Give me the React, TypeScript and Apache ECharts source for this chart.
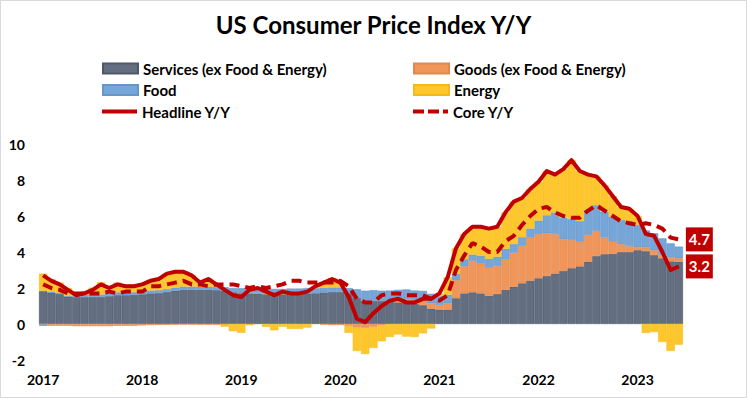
import React, { useEffect, useRef } from 'react';
import * as echarts from 'echarts';

const months = [
  '2017-02', '2017-03', '2017-04', '2017-05', '2017-06', '2017-07', '2017-08', '2017-09', '2017-10', '2017-11', '2017-12',
  '2018-01', '2018-02', '2018-03', '2018-04', '2018-05', '2018-06', '2018-07', '2018-08', '2018-09', '2018-10', '2018-11', '2018-12',
  '2019-01', '2019-02', '2019-03', '2019-04', '2019-05', '2019-06', '2019-07', '2019-08', '2019-09', '2019-10', '2019-11', '2019-12',
  '2020-01', '2020-02', '2020-03', '2020-04', '2020-05', '2020-06', '2020-07', '2020-08', '2020-09', '2020-10', '2020-11', '2020-12',
  '2021-01', '2021-02', '2021-03', '2021-04', '2021-05', '2021-06', '2021-07', '2021-08', '2021-09', '2021-10', '2021-11', '2021-12',
  '2022-01', '2022-02', '2022-03', '2022-04', '2022-05', '2022-06', '2022-07', '2022-08', '2022-09', '2022-10', '2022-11', '2022-12',
  '2023-01', '2023-02', '2023-03', '2023-04', '2023-05', '2023-06', '2023-07',
];

const services = [
  1.83, 1.74, 1.67, 1.52, 1.5, 1.5, 1.5, 1.5, 1.55, 1.6, 1.6,
  1.62, 1.65, 1.7, 1.72, 1.78, 1.85, 1.9, 1.9, 1.9, 1.9, 1.88, 1.85,
  1.78, 1.72, 1.7, 1.68, 1.65, 1.65, 1.65, 1.68, 1.68, 1.7, 1.72, 1.75,
  1.78, 1.78, 1.72, 1.45, 1.3, 1.28, 1.28, 1.25, 1.2, 1.18, 1.12, 1.05,
  0.85, 0.8, 0.8, 1.43, 1.7, 1.76, 1.7, 1.57, 1.67, 1.9, 2.07, 2.26,
  2.4, 2.54, 2.67, 2.8, 2.95, 3.1, 3.2, 3.46, 3.78, 3.88, 3.9, 4.0,
  4.0, 4.1, 4.05, 3.83, 3.65, 3.48, 3.46,
];

const goods = [
  -0.02, -0.1, -0.1, -0.1, -0.12, -0.12, -0.12, -0.12, -0.12, -0.1, -0.1,
  -0.1, -0.08, -0.06, -0.05, -0.04, -0.03, -0.02, -0.02, -0.03, -0.03, -0.03, -0.02,
  0.0, 0.02, 0.02, 0.04, 0.04, 0.05, 0.06, 0.04, 0.02, 0.02, 0.0, -0.03,
  -0.06, -0.06, -0.1, -0.2, -0.22, -0.15, -0.08, 0.05, 0.15, 0.2, 0.22, 0.25,
  0.3, 0.25, 0.35, 1.0, 1.5, 1.75, 1.65, 1.55, 1.55, 1.68, 1.88, 2.08,
  2.4, 2.45, 2.37, 2.2, 1.75, 1.57, 1.37, 1.48, 1.39, 0.92, 0.67, 0.43,
  0.33, 0.16, 0.2, 0.27, 0.18, 0.22, 0.19,
];

const food = [
  -0.08, 0.05, 0.06, 0.04, 0.1, 0.12, 0.13, 0.14, 0.15, 0.16, 0.18,
  0.15, 0.15, 0.16, 0.16, 0.16, 0.17, 0.18, 0.18, 0.17, 0.17, 0.18, 0.2,
  0.22, 0.25, 0.25, 0.27, 0.27, 0.25, 0.24, 0.25, 0.27, 0.28, 0.27, 0.26,
  0.25, 0.25, 0.27, 0.48, 0.55, 0.6, 0.57, 0.56, 0.55, 0.54, 0.52, 0.54,
  0.53, 0.5, 0.48, 0.36, 0.4, 0.35, 0.45, 0.5, 0.52, 0.6, 0.5, 0.48,
  0.5, 0.75, 1.0, 1.2, 1.2, 1.15, 1.15, 1.4, 1.43, 1.44, 1.39, 1.35,
  1.37, 1.24, 0.95, 0.94, 0.93, 0.78, 0.65,
];

const energy = [
  0.97, 0.71, 0.57, 0.44, 0.12, 0.2, 0.39, 0.68, 0.42, 0.54, 0.42,
  0.43, 0.48, 0.6, 0.67, 0.9, 0.91, 0.84, 0.64, 0.26, 0.46, 0.17, -0.13,
  -0.4, -0.49, -0.07, 0.01, -0.16, -0.35, -0.15, -0.27, -0.27, -0.2, 0.11, 0.32,
  0.53, 0.33, -0.39, -1.3, -1.45, -1.18, -0.88, -0.72, -0.58, -0.7, -0.72, -0.52,
  -0.25, 0.15, 0.97, 1.41, 1.4, 1.54, 1.6, 1.68, 1.66, 2.02, 2.35, 2.18,
  2.2, 2.16, 2.46, 2.1, 2.7, 3.28, 2.78, 1.96, 1.6, 1.46, 1.14, 0.72,
  0.7, 0.5, -0.5, -0.45, -1.0, -1.5, -1.15,
];

const headline = [
  2.7, 2.4, 2.2, 1.9, 1.6, 1.7, 1.9, 2.2, 2.0, 2.2, 2.1,
  2.1, 2.2, 2.4, 2.5, 2.8, 2.9, 2.9, 2.7, 2.3, 2.5, 2.2, 1.9,
  1.6, 1.5, 1.9, 2.0, 1.8, 1.6, 1.8, 1.7, 1.7, 1.8, 2.1, 2.3,
  2.5, 2.3, 1.5, 0.3, 0.1, 0.6, 1.0, 1.3, 1.4, 1.2, 1.2, 1.4,
  1.4, 1.7, 2.6, 4.2, 5.0, 5.4, 5.4, 5.3, 5.4, 6.2, 6.8, 7.0,
  7.5, 7.9, 8.5, 8.3, 8.6, 9.1, 8.5, 8.3, 8.2, 7.7, 7.1, 6.5,
  6.4, 6.0, 5.0, 4.9, 4.0, 3.0, 3.2,
];

const core = [
  2.2, 2.0, 1.9, 1.7, 1.7, 1.7, 1.7, 1.7, 1.8, 1.7, 1.8,
  1.8, 1.8, 2.1, 2.1, 2.2, 2.3, 2.4, 2.2, 2.2, 2.1, 2.2, 2.2,
  2.2, 2.1, 2.0, 2.1, 2.0, 2.1, 2.2, 2.4, 2.4, 2.3, 2.3, 2.3,
  2.3, 2.4, 2.1, 1.4, 1.2, 1.2, 1.6, 1.7, 1.7, 1.6, 1.6, 1.6,
  1.4, 1.3, 1.6, 3.0, 3.8, 4.5, 4.3, 4.0, 4.0, 4.6, 4.9, 5.5,
  6.0, 6.4, 6.5, 6.2, 6.0, 5.9, 5.9, 6.3, 6.6, 6.3, 6.0, 5.7,
  5.6, 5.5, 5.6, 5.5, 5.3, 4.8, 4.7,
];

const names = {
  services: 'Services (ex Food & Energy)',
  goods: 'Goods (ex Food & Energy)',
  food: 'Food',
  energy: 'Energy',
  headline: 'Headline Y/Y',
  core: 'Core Y/Y',
};

const FONT = 'Lato';
const RED = '#C00000';

const SOLID_ICON = 'path://M0,0h35v4h-35z';
const DASH_ICON = 'path://M0,0h11v4h-11z M15,0h11v4h-11z M30,0h5v4h-5z';

function legendAt(name: string, left: number, top: number, icon: string, itemHeight: number) {
  return {
    data: [name],
    left,
    top,
    orient: 'horizontal',
    padding: 0,
    itemWidth: 35,
    itemHeight,
    itemGap: 0,
    selectedMode: false,
    icon,
    textStyle: { fontFamily: FONT, fontWeight: 'bold', fontSize: 15, color: '#000' },
  };
}

export default function App() {
  const ref = useRef<HTMLDivElement>(null);
  useEffect(() => {
    const chart = echarts.init(ref.current!, null, { renderer: 'svg' });
    const bar = (name: string, data: number[], color: string, border: string) => ({
      name,
      type: 'bar',
      stack: 'cpi',
      data,
      barCategoryGap: '0%',
      itemStyle: { color, borderColor: border, borderWidth: 0.6 },
      emphasis: { disabled: true },
    });
    const endLabel = {
      show: true,
      distance: 7,
      formatter: (p: any) => Number(p.value).toFixed(1),
      backgroundColor: RED,
      color: '#fff',
      fontFamily: FONT,
      fontWeight: 'bold',
      fontSize: 15,
      lineHeight: 16,
      padding: [4, 3, 4, 3],
    };
    chart.setOption({
      animation: false,
      backgroundColor: '#fff',
      title: {
        text: 'US Consumer Price Index Y/Y',
        left: 'center',
        top: 7,
        textStyle: { fontFamily: FONT, fontWeight: 'bold', fontSize: 24, color: '#000' },
      },
      legend: [
        legendAt(names.services, 102, 61, 'rect', 10),
        legendAt(names.goods, 413, 61, 'rect', 10),
        legendAt(names.food, 102, 82.5, 'rect', 10),
        legendAt(names.energy, 413, 82.5, 'rect', 10),
        legendAt(names.headline, 102, 104, SOLID_ICON, 4),
        legendAt(names.core, 413, 104, DASH_ICON, 4),
      ],
      grid: { left: 39, right: 64, top: 144, bottom: 38, containLabel: false },
      xAxis: {
        type: 'category',
        data: months,
        boundaryGap: true,
        axisLine: { show: false },
        axisTick: { show: false },
        axisLabel: {
          interval: 11,
          margin: 12,
          formatter: (v: string) => v.slice(0, 4),
          fontFamily: FONT,
          fontWeight: 'bold',
          fontSize: 14,
          color: '#000',
        },
      },
      yAxis: {
        type: 'value',
        min: -2,
        max: 10,
        interval: 2,
        splitLine: { show: false },
        axisLine: { show: false },
        axisTick: { show: false },
        axisLabel: { margin: 14, fontFamily: FONT, fontWeight: 'bold', fontSize: 14, color: '#000' },
      },
      graphic: [
        {
          type: 'rect',
          silent: true,
          z: -1,
          shape: { x: 0.5, y: 0.5, width: 746, height: 397 },
          style: { fill: 'none', stroke: '#D9D9D9', lineWidth: 1 },
        },
      ],
      series: [
        bar(names.services, services, '#636E80', '#4E5868'),
        bar(names.goods, goods, '#F0965A', '#E0884E'),
        bar(names.food, food, '#76A5D8', '#6496C8'),
        bar(names.energy, energy, '#FFC72C', '#F2BA1E'),
        {
          name: names.headline,
          type: 'line',
          data: headline,
          symbol: 'none',
          z: 5,
          lineStyle: { color: RED, width: 4, join: 'round' },
          itemStyle: { color: RED },
          endLabel,
          emphasis: { disabled: true },
        },
        {
          name: names.core,
          type: 'line',
          data: core,
          symbol: 'none',
          z: 5,
          lineStyle: { color: RED, width: 4, type: [10, 6] },
          itemStyle: { color: RED },
          endLabel,
          emphasis: { disabled: true },
        },
      ],
    });
    return () => chart.dispose();
  }, []);
  return (
    <div
      ref={ref}
      style={{ position: 'fixed', left: 0, top: 0, width: 747, height: 398, background: '#fff' }}
    />
  );
}
